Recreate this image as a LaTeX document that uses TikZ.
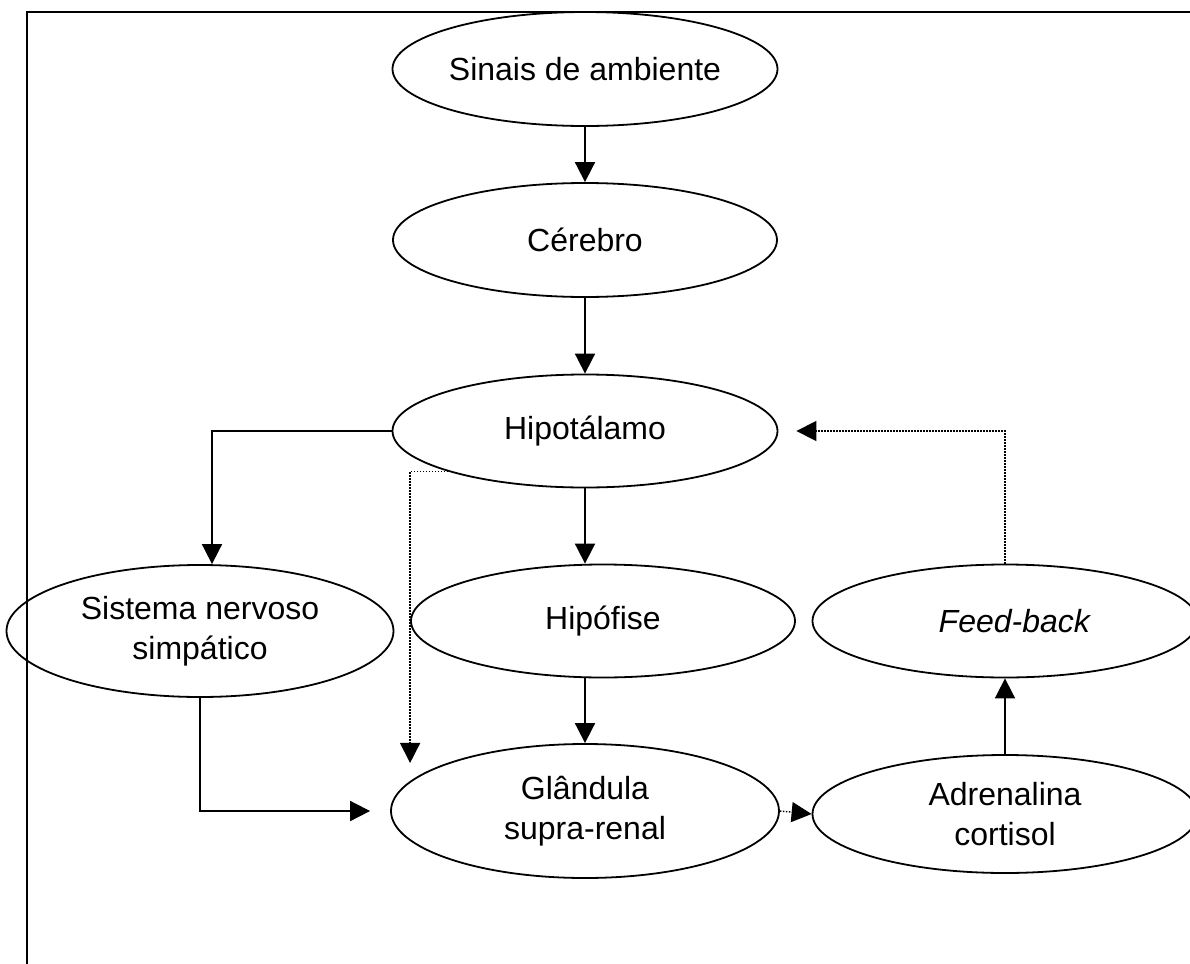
\documentclass[tikz,border=0pt]{standalone}
\usepackage{fontspec}
\setmainfont{Liberation Sans}
\usetikzlibrary{shapes, arrows.meta, calc}
\usetikzlibrary{positioning}
\tikzstyle{bubble}=[draw, ellipse, line width=0.9pt, inner sep=0pt,
align=center, font=\fontsize{16}{20}\selectfont]
\tikzstyle{myarrow}=[-{Triangle[length=10pt,width=10pt]}, line width=0.9pt]
\tikzstyle{mydots}=[myarrow, line width=0.75pt, dash pattern=on 0.75pt off 0.75pt]

\begin{document}
\begin{tikzpicture}[x=0.5pt, y=-0.5pt]
    \useasboundingbox (0,0) rectangle (1190,964);
    \draw[line width=1pt] (27,964) -- (27,12) -- (1190,12);

    \node[bubble, minimum width=192.5pt, minimum height=57pt] (sinais) at (585,69)
        {Sinais de ambiente};
    \node[bubble, minimum width=192pt, minimum height=57pt] (cerebro) at (585,240)
        {Cérebro};
    \node[bubble, minimum width=192.5pt, minimum height=56.5pt] (hipot) at (585,431)
        {Hipotálamo};
    \node[bubble, minimum width=192pt, minimum height=56.5pt] (hipof) at (603,621)
        {Hipófise};
    \node[bubble, minimum width=193.5pt, minimum height=66pt] (sns) at (200,631)
        {Sistema nervoso\\simpático};
    \node[bubble, minimum width=192.5pt, minimum height=56.5pt] (feed) at (1005,621)
        {\hspace{10pt}\textit{Feed-back}};
    \node[bubble, minimum width=194pt, minimum height=67pt] (glan) at (585,811)
        {Glândula\\supra-renal};
    \node[bubble, minimum width=192.5pt, minimum height=59pt] (adren) at (1005,814)
        {Adrenalina\\cortisol};

    \draw[myarrow] (sinais) -- (cerebro) ;
    \draw[myarrow] (cerebro) -- (hipot) ;
    \draw[myarrow] (hipot.west) -| ([xshift=6pt]sns.north) ;
    \draw[myarrow] (hipot.south) -- (hipot.south |- hipof.north) ;
    \draw[mydots] (hipot.south west) -| ([xshift=10pt]glan.west |- glan.north west) ;
    \draw[myarrow] (sns.south) |- ([xshift=-10pt]glan.west) ;
    \draw[myarrow] (glan.north |- hipof.south) -- (glan.north) ;
    \draw[mydots] (glan.east) -- (adren.west) ;
    \draw[myarrow] (adren) -- (feed) ;
    \draw[mydots] (feed.north) |- ([xshift=9pt]hipot.east) ;
\end{tikzpicture}
\end{document}
